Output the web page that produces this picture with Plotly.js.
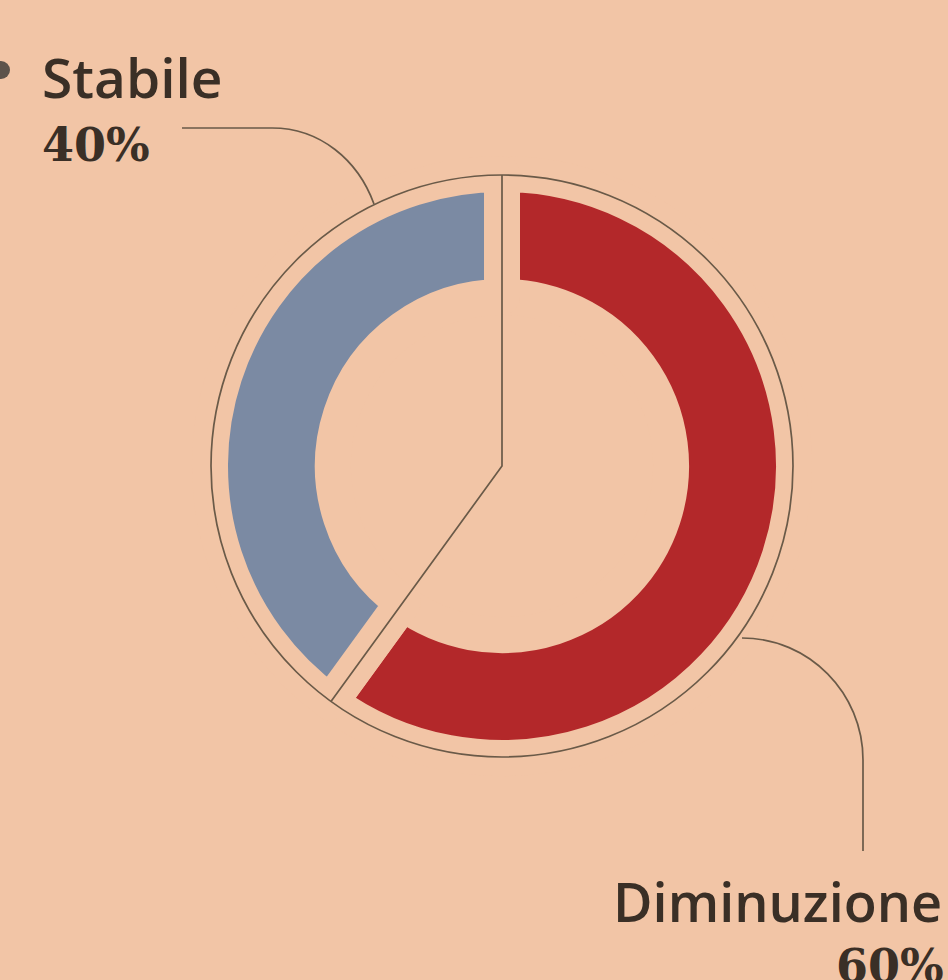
<!DOCTYPE html>
<html>
<head>
<meta charset="utf-8">
<script src="https://cdn.plot.ly/plotly-3.0.1.min.js"></script>
<style>
  html, body { margin: 0; padding: 0; background: #f2c5a6; }
  #chart { width: 948px; height: 980px; }
</style>
</head>
<body>
<div id="chart"></div>
<script>
// ---- data (listed clockwise from 12 o'clock) ----
const categories = ['Diminuzione', 'Stabile'];
const values = [60, 40];
const pctLabels = ['60%', '40%'];
const sliceColors = ['#b3282a', '#7b8aa3'];

// ---- layout constants (pixels) ----
const W = 948, H = 980;
const BG = '#f2c5a6';
const INK = '#3a2f26';
const LINE = '#6a5a48';
const cx = 502, cy = 466;      // pie centre
const R = 292;                 // full pie radius
const gapW = 36;               // slice separation stroke
const ringOuter = 291;         // outer decorative circle

const px = x => x / W;
const py = y => 1 - y / H;

const total = values.reduce((a, b) => a + b, 0);
const splitAngle = 2 * Math.PI * values[0] / total; // clockwise from 12 o'clock
const ex = cx + ringOuter * Math.sin(splitAngle);
const ey = cy - ringOuter * Math.cos(splitAngle);

const trace = {
  type: 'pie',
  labels: categories,
  values: values,
  sort: false,
  direction: 'clockwise',
  rotation: 0,
  hole: 0.579,
  textinfo: 'none',
  hoverinfo: 'skip',
  showlegend: false,
  marker: { colors: sliceColors, line: { color: BG, width: gapW } },
  domain: { x: [px(cx - R), px(cx + R)], y: [py(cy + R), py(cy - R)] }
};

function p(x, y) { return px(x) + ',' + py(y); }

const shapes = [
  // outer thin circle
  { type: 'circle', xref: 'paper', yref: 'paper',
    x0: px(cx - ringOuter), x1: px(cx + ringOuter), y0: py(cy + ringOuter), y1: py(cy - ringOuter),
    line: { color: LINE, width: 1.7 } },
  // divider: top to centre to split point
  { type: 'path', xref: 'paper', yref: 'paper',
    path: 'M' + p(cx, cy - ringOuter) + ' L' + p(cx, cy) + ' L' + p(ex, ey),
    line: { color: LINE, width: 1.7 } },
  // leader Stabile
  { type: 'path', xref: 'paper', yref: 'paper',
    path: 'M' + p(182, 128) + ' L' + p(272, 128) + ' C' + p(320, 128) + ' ' + p(358, 160) + ' ' + p(374, 204),
    line: { color: LINE, width: 1.7 } },
  // leader Diminuzione
  { type: 'path', xref: 'paper', yref: 'paper',
    path: 'M' + p(742, 638) + ' C' + p(809, 638) + ' ' + p(863, 693) + ' ' + p(863, 760) + ' L' + p(863, 851),
    line: { color: LINE, width: 1.7 } },
  // small bullet at left edge
  { type: 'circle', xref: 'paper', yref: 'paper',
    x0: px(-8), x1: px(10), y0: py(79), y1: py(61),
    fillcolor: '#5d534b', line: { width: 0 } }
];

const sansFont = { family: 'Open Sans, Noto Sans, sans-serif', size: 55, color: INK, weight: 600 };
const serifFont = { family: 'DejaVu Serif, serif', size: 46, color: INK, weight: 700 };

const annotations = [
  { text: categories[1], xref: 'paper', yref: 'paper', x: px(40), y: py(76),
    xanchor: 'left', yanchor: 'middle', showarrow: false, font: sansFont },
  { text: pctLabels[1], xref: 'paper', yref: 'paper', x: px(40), y: py(145),
    xanchor: 'left', yanchor: 'middle', showarrow: false, font: serifFont },
  { text: categories[0], xref: 'paper', yref: 'paper', x: px(944), y: py(901),
    xanchor: 'right', yanchor: 'middle', showarrow: false, font: Object.assign({}, sansFont, { size: 54 }) },
  { text: pctLabels[0], xref: 'paper', yref: 'paper', x: px(946), y: py(966),
    xanchor: 'right', yanchor: 'middle', showarrow: false, font: serifFont }
];

const layout = {
  width: W, height: H,
  margin: { l: 0, r: 0, t: 0, b: 0 },
  paper_bgcolor: BG, plot_bgcolor: BG,
  showlegend: false,
  shapes: shapes,
  annotations: annotations
};

Plotly.newPlot('chart', [trace], layout, { staticPlot: true, displayModeBar: false });
</script>
</body>
</html>
